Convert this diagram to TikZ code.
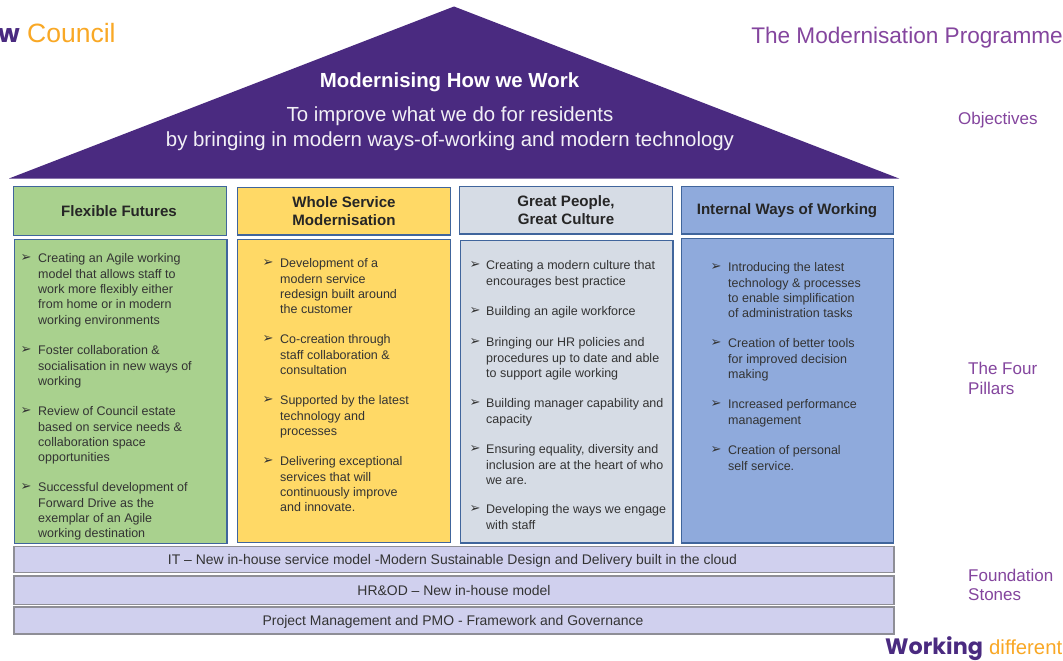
\documentclass[tikz,border=0pt]{standalone}
\usepackage{fontspec}
\setmainfont{Liberation Sans}
\newfontfamily\bulletfont{DejaVu Sans}
\newfontfamily\logofont{Poppins}
\definecolor{roof}{HTML}{4A2A80}
\definecolor{labelpurple}{HTML}{84459E}
\definecolor{logoorange}{HTML}{F9A825}
\definecolor{pillarline}{HTML}{40659C}
\definecolor{stoneline}{HTML}{8E8E96}
\definecolor{cgreen}{HTML}{A9D18E}
\definecolor{cyellow}{HTML}{FFD966}
\definecolor{cgrey}{HTML}{D6DCE5}
\definecolor{cblue}{HTML}{8FAADC}
\definecolor{cstone}{HTML}{D0D0EE}
\definecolor{bodytext}{HTML}{333333}
\tikzset{
  x=1pt,y=-1pt,
  pillar/.style={draw=pillarline,line width=1.4pt,rectangle},
  head/.style={font=\fontsize{15.1}{18}\selectfont\bfseries,text=black!85,align=center,inner sep=0pt},
  itemtext/.style={font=\fontsize{12.5}{15.35}\selectfont,text=bodytext,align=left,inner sep=0pt,anchor=north west},
  bulletmark/.style={font=\bulletfont\fontsize{13}{14}\selectfont,text=black!80,inner sep=0pt},
  stone/.style={draw=stoneline,line width=1.3pt,fill=cstone,rectangle},
  stonetext/.style={font=\fontsize{13.95}{15}\selectfont,text=bodytext,inner sep=0pt},
  sidelabel/.style={font=\fontsize{17}{20}\selectfont,text=labelpurple,align=left,inner sep=0pt,anchor=west},
}
\newcommand{\pitem}[5]{%
  \node[bulletmark] (#1b) at (#2,#4) {➢};
  \node[itemtext] (#1) at (#3,#4-4.5) {#5};
}
\begin{document}
\begin{tikzpicture}
\useasboundingbox (0,0) rectangle (1063,661);
\fill[white] (0,0) rectangle (1063,661);
% roof
\fill[roof] (454,6.5) -- (899,178.5) -- (9,178.5) -- cycle;
\node[font=\fontsize{20.4}{24}\selectfont\bfseries,text=white,inner sep=0pt] (title) at (449.5,82) {Modernising How we Work};
\node[font=\fontsize{20.4}{25.5}\selectfont,text=white!93!roof,align=center,inner sep=0pt] (sub) at (450,128.5) {To improve what we do for residents\\by bringing in modern ways-of-working and modern technology};
% logo
\node[font=\logofont\fontsize{25}{28}\selectfont\bfseries,text=roof,anchor=base east,inner sep=0pt] (lw) at (20,43) {w};
\node[font=\fontsize{26.5}{28}\selectfont,text=logoorange,anchor=base west,inner sep=0pt] (lc) at (27,43) {Council};
\node[font=\fontsize{22.6}{26}\selectfont,text=labelpurple,anchor=base east,inner sep=0pt] (prog) at (1063,44) {The Modernisation Programme};
% pillar heads
\draw[pillar,fill=cgreen] (13.5,186.5) rectangle (226.5,235.5);
\draw[pillar,fill=cyellow] (237.5,187.5) rectangle (450.5,235);
\draw[pillar,fill=cgrey] (459.5,186.5) rectangle (672.5,234);
\draw[pillar,fill=cblue] (681.5,186.5) rectangle (893.5,234);
\node[head] (h1) at (119,211) {Flexible Futures};
\node[head] (h2) at (344,211.5) {Whole Service\\Modernisation};
\node[head] (h3) at (566,210) {Great People,\\Great Culture};
\node[head] (h4) at (787,210.5) {Internal Ways of Working};
% pillar bodies
\draw[pillar,fill=cgreen] (14.5,239.5) rectangle (227,543.5);
\draw[pillar,fill=cyellow] (237.5,239.5) rectangle (450.5,542.5);
\draw[pillar,fill=cgrey] (460.5,240.5) rectangle (673,543);
\draw[pillar,fill=cblue] (681.5,238.5) rectangle (893.5,543);
% column 1
\pitem{a1}{26}{38}{258}{Creating an Agile working\\model that allows staff to\\work more flexibly either\\from home or in modern\\working environments}
\pitem{a2}{26}{38}{350}{Foster collaboration \&\\socialisation in new ways of\\working}
\pitem{a3}{26}{38}{411}{Review of Council estate\\based on service needs \&\\collaboration space\\opportunities}
\pitem{a4}{26}{38}{487}{Successful development of\\Forward Drive as the\\exemplar of an Agile\\working destination}
% column 2
\pitem{b1}{268}{280}{263}{Development of a\\modern service\\redesign built around\\the customer}
\pitem{b2}{268}{280}{339}{Co-creation through\\staff collaboration \&\\consultation}
\pitem{b3}{268}{280}{400}{Supported by the latest\\technology and\\processes}
\pitem{b4}{268}{280}{461}{Delivering exceptional\\services that will\\continuously improve\\and innovate.}
% column 3
\pitem{c1}{475}{486}{265}{Creating a modern culture that\\encourages best practice}
\pitem{c2}{475}{486}{311}{Building an agile workforce}
\pitem{c3}{475}{486}{342}{Bringing our HR policies and\\procedures up to date and able\\to support agile working}
\pitem{c4}{475}{486}{403}{Building manager capability and\\capacity}
\pitem{c5}{475}{486}{449}{Ensuring equality, diversity and\\inclusion are at the heart of who\\we are.}
\pitem{c6}{475}{486}{509}{Developing the ways we engage\\with staff}
% column 4
\pitem{d1}{716}{728}{267}{Introducing the latest\\technology \& processes\\to enable simplification\\of administration tasks}
\pitem{d2}{716}{728}{343}{Creation of better tools\\for improved decision\\making}
\pitem{d3}{716}{728}{404}{Increased performance\\management}
\pitem{d4}{716}{728}{450}{Creation of personal\\self service.}
% foundation stones
\draw[stone] (14,546.5) rectangle (894,572.5);
\draw[stone] (14,576) rectangle (894,604.5);
\draw[stone] (14,607) rectangle (894,634);
\node[stonetext] (s1) at (452.5,561) {IT – New in-house service model -Modern Sustainable Design and Delivery built in the cloud};
\node[stonetext] (s2) at (454,590.5) {HR\&OD – New in-house model};
\node[stonetext] (s3) at (453,621.5) {Project Management and PMO -  Framework and Governance};
% side labels
\node[sidelabel] (l1) at (958,120.5) {Objectives};
\node[sidelabel] (l2) at (968,378.5) {The Four\\Pillars};
\node[sidelabel,font=\fontsize{17}{19.5}\selectfont] (l3) at (968,585) {Foundation\\Stones};
% working differently
\node[font=\logofont\fontsize{22.3}{24}\selectfont\bfseries,text=roof,anchor=base west,inner sep=0pt] (wk) at (885,654) {Working};
\node[font=\fontsize{20.3}{24}\selectfont,text=logoorange,anchor=base west,inner sep=0pt] (df) at (989,654) {different};
\end{tikzpicture}
\end{document}
